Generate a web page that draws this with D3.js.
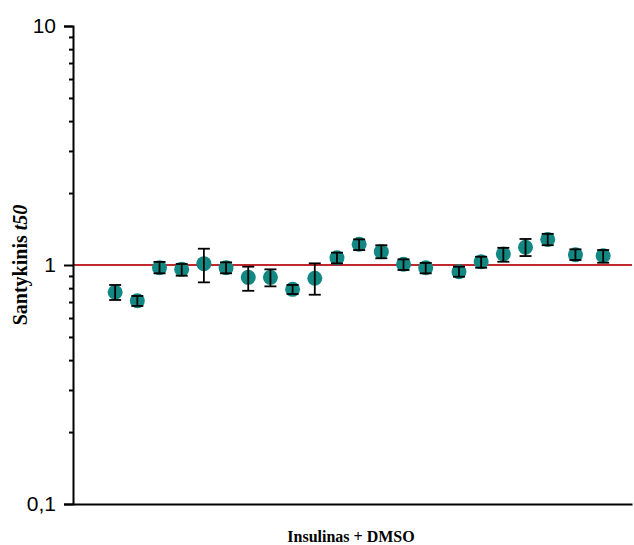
<!DOCTYPE html>
<html>
<head>
<meta charset="utf-8">
<script src="https://cdn.jsdelivr.net/npm/d3@7"></script>
<style>
  body { margin: 0; background: #fff; }
  svg { display: block; }
</style>
</head>
<body>
<div id="chart"></div>
<script>
// sample positions along the x axis (category index, with gaps between groups)
var samplePos = [1, 2, 3, 4, 5, 6, 7, 8, 9, 10, 11, 12, 13, 14, 15,
                 16.5, 17.5, 18.5, 19.5, 20.5, 21.75, 23];
// relative t50 (mean)
var ratio = [0.769, 0.709, 0.974, 0.959, 1.013, 0.974, 0.888, 0.888, 0.791, 0.880, 1.073,
             1.221, 1.137, 1.007, 0.974, 0.937, 1.032, 1.112, 1.186, 1.280, 1.104, 1.093];
// error bar upper / lower ends
var errHigh = [0.825, 0.742, 1.030, 1.010, 1.170, 1.026, 0.984, 0.959, 0.825, 1.016, 1.126,
               1.280, 1.210, 1.056, 1.020, 0.984, 1.083, 1.180, 1.285, 1.350, 1.163, 1.155];
var errLow  = [0.714, 0.674, 0.923, 0.902, 0.846, 0.923, 0.780, 0.814, 0.756, 0.751, 1.016,
               1.155, 1.067, 0.953, 0.923, 0.893, 0.974, 1.032, 1.090, 1.210, 1.049, 1.022];
var majorTicks = [0.1, 1, 10];
var minorTicks = [0.2, 0.3, 0.4, 0.5, 0.6, 0.7, 0.8, 0.9, 2, 3, 4, 5, 6, 7, 8, 9];
var refLine = 1;

var margin = {top: 26, right: 2, bottom: 41, left: 73};
var width = 634 - margin.left - margin.right,
    height = 545 - margin.top - margin.bottom;

var svg = d3.select("#chart").append("svg")
    .attr("width", 634)
    .attr("height", 545)
    .append("g")
    .attr("transform", "translate(" + margin.left + "," + margin.top + ")");

var x = d3.scaleLinear()
    .domain([-0.9, 24.3])
    .range([0, width]);

var y = d3.scaleLog()
    .domain([0.1, 10])
    .range([height, 0]);

var data = samplePos.map(function(p, i) {
    return {pos: p, v: ratio[i], hi: errHigh[i], lo: errLow[i]};
});

// reference line at 1
svg.append("line")
    .attr("x1", 0)
    .attr("x2", width)
    .attr("y1", y(refLine))
    .attr("y2", y(refLine))
    .style("stroke", "#c0282d")
    .style("stroke-width", 2);

// points
svg.selectAll(".dot")
    .data(data)
    .enter().append("circle")
    .attr("class", "dot")
    .attr("cx", function(d) { return x(d.pos); })
    .attr("cy", function(d) { return y(d.v); })
    .attr("r", 7.5)
    .style("fill", "#138781");

// error bars on top of the markers
var bars = svg.selectAll(".err")
    .data(data)
    .enter().append("g")
    .attr("class", "err")
    .style("stroke", "#000")
    .style("stroke-width", 1.8);

bars.append("line")
    .attr("x1", function(d) { return x(d.pos); })
    .attr("x2", function(d) { return x(d.pos); })
    .attr("y1", function(d) { return y(d.hi); })
    .attr("y2", function(d) { return y(d.lo); });

bars.append("line")
    .attr("x1", function(d) { return x(d.pos) - 6; })
    .attr("x2", function(d) { return x(d.pos) + 6; })
    .attr("y1", function(d) { return y(d.hi); })
    .attr("y2", function(d) { return y(d.hi); });

bars.append("line")
    .attr("x1", function(d) { return x(d.pos) - 6; })
    .attr("x2", function(d) { return x(d.pos) + 6; })
    .attr("y1", function(d) { return y(d.lo); })
    .attr("y2", function(d) { return y(d.lo); });

// axes
var yAxis = d3.axisLeft(y)
    .tickValues(majorTicks.concat(minorTicks))
    .tickSizeOuter(0)
    .tickSize(9)
    .tickPadding(8)
    .tickFormat(function(d) {
        return majorTicks.indexOf(d) >= 0 ? String(d).replace(".", ",") : "";
    });

var gy = svg.append("g")
    .attr("class", "y-axis")
    .call(yAxis);

gy.selectAll(".tick line")
    .attr("x2", function(d) { return majorTicks.indexOf(d) >= 0 ? -9 : -4; })
    .style("stroke-width", 2);
gy.select(".domain").style("stroke-width", 2);
gy.selectAll(".tick text")
    .style("font-family", "Liberation Sans, Arial, sans-serif")
    .style("font-size", "21px")
    .style("fill", "#000");

var gx = svg.append("g")
    .attr("class", "x-axis")
    .attr("transform", "translate(0," + height + ")")
    .call(d3.axisBottom(x).tickValues([]).tickSizeOuter(0));
gx.select(".domain").style("stroke-width", 2);

// labels
svg.append("text")
    .attr("x", 351 - margin.left)
    .attr("y", height + 38)
    .attr("text-anchor", "middle")
    .style("font-family", "Liberation Serif, Times New Roman, serif")
    .style("font-weight", "bold")
    .style("font-size", "16px")
    .text("Insulinas + DMSO");

var yl = svg.append("text")
    .attr("transform", "translate(" + (-46) + "," + y(1) + ") rotate(-90)")
    .attr("text-anchor", "middle")
    .style("font-family", "Liberation Serif, Times New Roman, serif")
    .style("font-weight", "bold")
    .style("font-size", "20px");
yl.append("tspan").text("Santykinis ");
yl.append("tspan").style("font-style", "italic").text("t50");
</script>
</body>
</html>
